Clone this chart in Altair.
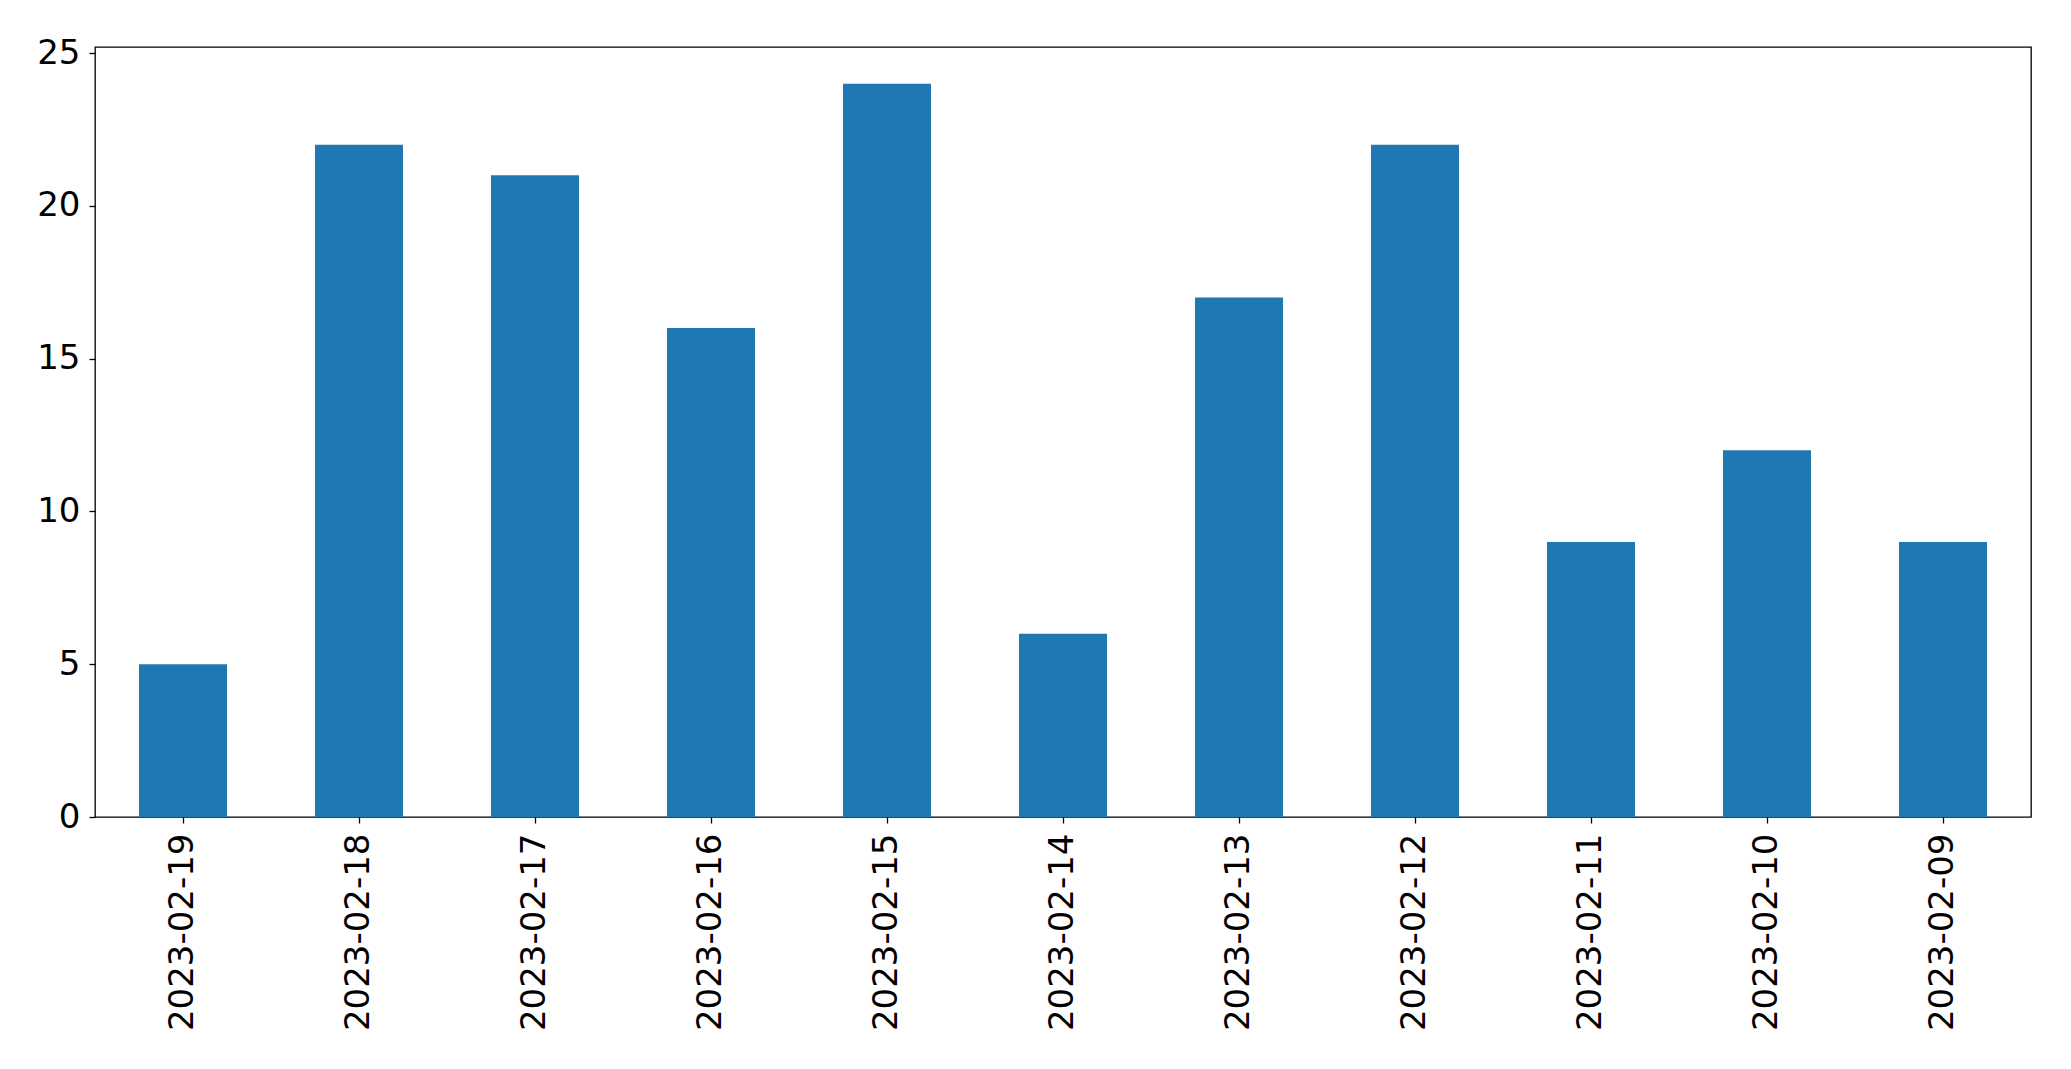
import altair as alt
import pandas as pd

dates = ["2023-02-19", "2023-02-18", "2023-02-17", "2023-02-16", "2023-02-15",
         "2023-02-14", "2023-02-13", "2023-02-12", "2023-02-11", "2023-02-10",
         "2023-02-09"]
counts = [5, 22, 21, 16, 24, 6, 17, 22, 9, 12, 9]
y_ticks = [0, 5, 10, 15, 20, 25]

df = pd.DataFrame({"date": dates, "count": counts})

FONT = "DejaVu Sans"

chart = alt.Chart(df).mark_bar(color="#1f77b4").encode(
    x=alt.X("date:N", sort=dates,
            scale=alt.Scale(paddingInner=0.5, paddingOuter=0.25),
            axis=alt.Axis(title=None, labelAngle=270, labelAlign="right",
                          labelBaseline="middle", labelPadding=10)),
    y=alt.Y("count:Q",
            scale=alt.Scale(domain=[0, 25.2], nice=False, zero=True),
            axis=alt.Axis(title=None, values=y_ticks, labelPadding=9)),
).properties(
    width=1936,
    height=770,
    autosize="none",
    background="white",
    padding={"left": 95, "top": 47, "right": 40, "bottom": 252},
).configure_axis(
    labelFontSize=34, labelFont=FONT, labelColor="black", labelLimit=0,
    tickColor="black", tickSize=6, tickWidth=1.3,
    domain=False, grid=False,
).configure_view(
    stroke="black", strokeWidth=1.3
)

chart.save("out.html", embed_options={"renderer": "svg", "actions": False})
